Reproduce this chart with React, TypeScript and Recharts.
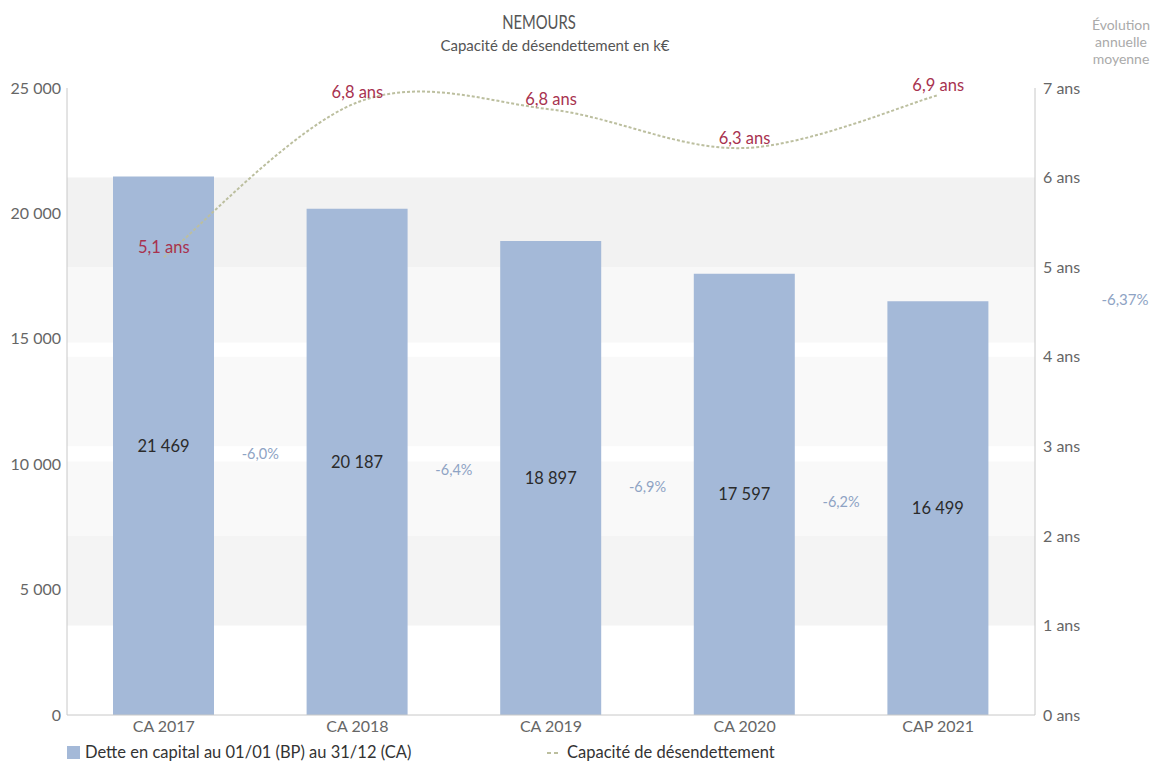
import React from 'react';
import { ComposedChart, Bar, Line, XAxis, YAxis, LabelList, ReferenceArea } from 'recharts';

const categories = ['CA 2017', 'CA 2018', 'CA 2019', 'CA 2020', 'CAP 2021'];
const debt = [21469, 20187, 18897, 17597, 16499];
const capacity = [5.11, 6.84, 6.76, 6.33, 6.92];
const evolutionLabels = ['-6,0%', '-6,4%', '-6,9%', '-6,2%'];
const averageEvolution = '-6,37%';
const leftTicks = [0, 5000, 10000, 15000, 20000, 25000];
const rightTicks = [0, 1, 2, 3, 4, 5, 6, 7];

const data = categories.map((c, i) => ({ name: c, debt: debt[i], capacity: capacity[i] }));

const W = 1155;
const H = 765;
const M = { top: 88, right: 60, bottom: 30, left: 0 };
const LEFT_AXIS_W = 67;
const RIGHT_AXIS_W = 60;
const FONT = 'Lato, "Open Sans", sans-serif';
const plotW = W - M.left - M.right - LEFT_AXIS_W - RIGHT_AXIS_W;
const band = plotW / categories.length;

const fmtThousands = (v: number) => {
  const s = String(Math.round(v));
  return s.replace(/\B(?=(\d{3})+(?!\d))/g, ' ');
};
const fmtYears = (v: number) => v.toFixed(1).replace('.', ',') + ' ans';

// Catmull-Rom style smoothing curve (d3 CurveFactory interface)
const smoothCurve = (context: any) => {
  let pts: number[][] = [];
  return {
    areaStart() {},
    areaEnd() {},
    lineStart() {
      pts = [];
    },
    point(x: number, y: number) {
      pts.push([+x, +y]);
    },
    lineEnd() {
      const n = pts.length;
      if (!n) return;
      context.moveTo(pts[0][0], pts[0][1]);
      for (let i = 0; i < n - 1; i++) {
        const p0 = pts[i - 1] || pts[i];
        const p1 = pts[i];
        const p2 = pts[i + 1];
        const p3 = pts[i + 2] || pts[i + 1];
        const c1x = p1[0] + (p2[0] - p0[0]) / 6;
        const c1y = p1[1] + (p2[1] - p0[1]) / 6;
        const c2x = p2[0] - (p3[0] - p1[0]) / 6;
        const c2y = p2[1] - (p3[1] - p1[1]) / 6;
        context.bezierCurveTo(c1x, c1y, c2x, c2y, p2[0], p2[1]);
      }
    },
  };
};

const EvolutionLabel = (props: any) => {
  const { x, y, width, height, index } = props;
  if (index == null || index <= 0) return null;
  const bottom = y + height;
  const ppu = height / debt[index];
  const cCur = y + height / 2;
  const cPrev = bottom - (debt[index - 1] * ppu) / 2;
  const cx = x + width / 2 - band / 2;
  const cy = (cCur + cPrev) / 2;
  return (
    <text x={cx} y={cy} textAnchor="middle" dominantBaseline="central" fill="#8ea3c4" fontSize={14.5} fontFamily={FONT}>
      {evolutionLabels[index - 1]}
    </text>
  );
};

export default function App() {
  return (
    <div style={{ position: 'absolute', left: 0, top: 0, width: W, height: H, background: '#fff', fontFamily: FONT, overflow: 'hidden' }}>
      <div
        style={{
          position: 'absolute',
          left: 439,
          width: 200,
          top: 9,
          textAlign: 'center',
          fontSize: 20,
          color: '#555',
          transform: 'scaleX(0.74)',
        }}
      >
        NEMOURS
      </div>
      <div style={{ position: 'absolute', left: 405, width: 300, top: 36, textAlign: 'center', fontSize: 15, color: '#555' }}>
        Capacité de désendettement en k€
      </div>
      <div style={{ position: 'absolute', left: 1086, width: 70, top: 16, textAlign: 'center', fontSize: 14, lineHeight: '17px', color: '#aaa' }}>
        Évolution<br />annuelle<br />moyenne
      </div>
      <div style={{ position: 'absolute', left: 1095, width: 60, top: 290, textAlign: 'center', fontSize: 15, color: '#8ea3c4' }}>
        {averageEvolution}
      </div>
      <ComposedChart width={W} height={H} data={data} margin={M}>
        <ReferenceArea yAxisId="right" y1={1} y2={2} fill="#f4f4f4" fillOpacity={1} stroke="none" />
        <ReferenceArea yAxisId="right" y1={2} y2={2.83} fill="#f9f9f9" fillOpacity={1} stroke="none" />
        <ReferenceArea yAxisId="right" y1={3} y2={4} fill="#f9f9f9" fillOpacity={1} stroke="none" />
        <ReferenceArea yAxisId="right" y1={4.16} y2={5} fill="#f8f8f8" fillOpacity={1} stroke="none" />
        <ReferenceArea yAxisId="right" y1={5} y2={6} fill="#f2f2f2" fillOpacity={1} stroke="none" />
        <XAxis
          dataKey="name"
          height={20}
          stroke="#c8c8c8"
          tickLine={false}
          tick={{ fill: '#666', fontSize: 16, fontFamily: FONT }}
          tickMargin={0}
        />
        <YAxis
          yAxisId="left"
          width={LEFT_AXIS_W}
          domain={[0, 25000]}
          ticks={leftTicks}
          tickFormatter={fmtThousands}
          stroke="#c8c8c8"
          tickLine={false}
          tickMargin={0}
          tick={{ fill: '#666', fontSize: 16, fontFamily: FONT }}
        />
        <YAxis
          yAxisId="right"
          orientation="right"
          width={RIGHT_AXIS_W}
          domain={[0, 7]}
          ticks={rightTicks}
          tickFormatter={(v: number) => `${v} ans`}
          stroke="#c8c8c8"
          tickLine={false}
          tickMargin={2}
          tick={{ fill: '#666', fontSize: 16, fontFamily: FONT }}
        />
        <Bar yAxisId="left" dataKey="debt" fill="#a4b9d8" barSize={101} isAnimationActive={false}>
          <LabelList dataKey="debt" position="center" formatter={(v: any) => fmtThousands(Number(v))} fill="#2b2b2b" fontSize={16.5} fontFamily={FONT} />
          <LabelList dataKey="debt" content={EvolutionLabel} />
        </Bar>
        <Line
          yAxisId="right"
          type={smoothCurve as any}
          dataKey="capacity"
          stroke="#bcbf9f"
          strokeWidth={2}
          strokeDasharray="3 2"
          dot={false}
          activeDot={false}
          isAnimationActive={false}
        >
          <LabelList dataKey="capacity" position="top" offset={4} formatter={(v: any) => fmtYears(Number(v))} fill="#a8324f" fontSize={16.5} fontFamily={FONT} />
        </Line>
      </ComposedChart>
      <div style={{ position: 'absolute', left: 67, top: 742, display: 'flex', alignItems: 'center', fontSize: 16.5, color: '#333' }}>
        <span style={{ display: 'inline-block', width: 13, height: 13, background: '#a4b9d8', marginRight: 5 }} />
        <span>Dette en capital au 01/01 (BP) au 31/12 (CA)</span>
      </div>
      <div style={{ position: 'absolute', left: 547, top: 742, display: 'flex', alignItems: 'center', fontSize: 16.5, color: '#333' }}>
        <svg width={14} height={14} style={{ marginRight: 6 }}>
          <line x1={0} y1={8} x2={14} y2={8} stroke="#bcbf9f" strokeWidth={2} strokeDasharray="4 3" />
        </svg>
        <span>Capacité de désendettement</span>
      </div>
    </div>
  );
}
